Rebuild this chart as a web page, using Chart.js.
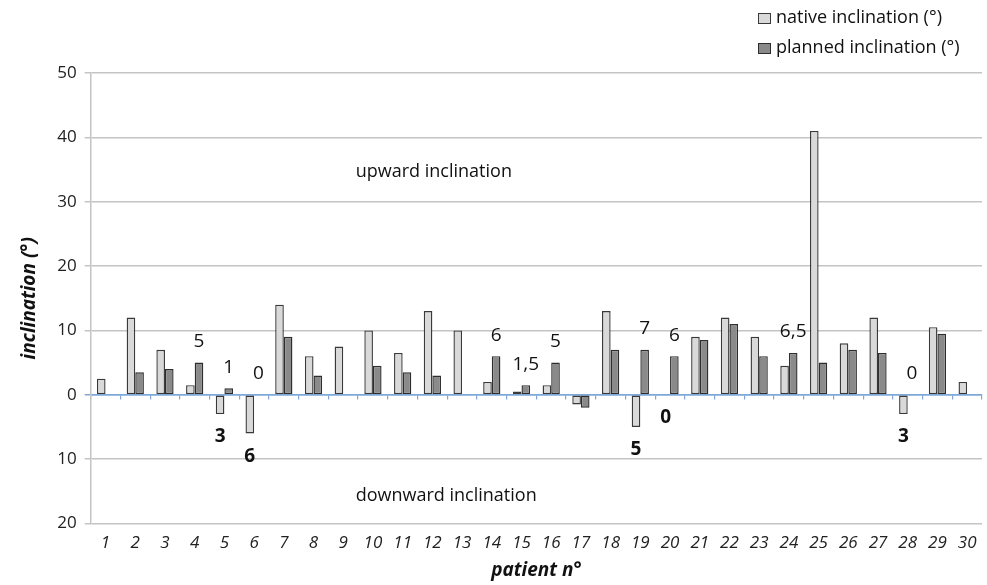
<!DOCTYPE html>
<html lang="en">
<head>
    <meta charset="UTF-8">
    <title>Native vs planned inclination</title>
    <script src="https://cdn.jsdelivr.net/npm/chart.js"></script>
    <style>
      body { margin: 0; background: #fff; }
      #wrap { width: 987px; height: 585px; }
    </style>
</head>
<body>
<div id="wrap"><canvas id="inclChart"></canvas></div>

<script>
  // data
  const patients = ['1','2','3','4','5','6','7','8','9','10','11','12','13','14','15',
                    '16','17','18','19','20','21','22','23','24','25','26','27','28','29','30'];
  const nativeIncl  = [2.5, 12, 7, 1.5, -3, -6, 14, 6, 7.5, 10, 6.5, 13, 10, 2, 0.5,
                       1.5, -1.5, 13, -5, 0, 9, 12, 9, 4.5, 41, 8, 12, -3, 10.5, 2];
  const plannedIncl = [null, 3.5, 4, 5, 1, 0, 9, 3, null, 4.5, 3.5, 3, null, 6, 1.5,
                       5, -2, 7, 7, 6, 8.5, 11, 6, 6.5, 5, 7, 6.5, 0, 9.5, null];
  // patients whose value is written next to the bar
  const plannedLabelled = [4, 5, 6, 14, 15, 16, 19, 20, 24, 28];
  const nativeLabelled  = [5, 6, 19, 20, 28];
  const yTicks = [-20, -10, 0, 10, 20, 30, 40, 50];

  const FONT = '"Open Sans", sans-serif';
  const blue = '#7fa8d8';
  const gridGray = '#c4c4c4';

  const fmt = v => String(Math.abs(v)).replace('.', ',');

  // value labels above planned bars / below downward native bars
  const valueLabels = {
    id: 'valueLabels',
    afterDatasetsDraw(chart) {
      const ctx = chart.ctx;
      const ys = chart.scales.y;
      ctx.save();
      ctx.fillStyle = '#111';
      ctx.textAlign = 'center';
      ctx.textBaseline = 'middle';
      ctx.font = '19px ' + FONT;
      plannedLabelled.forEach(p => {
        const el = chart.getDatasetMeta(1).data[p - 1];
        const v = plannedIncl[p - 1];
        ctx.fillText(fmt(v), el.x, ys.getPixelForValue(Math.max(v, 0)) - 21);
      });
      ctx.font = 'bold 19px ' + FONT;
      nativeLabelled.forEach(p => {
        const el = chart.getDatasetMeta(0).data[p - 1];
        const v = nativeIncl[p - 1];
        ctx.fillText(fmt(v), el.x, ys.getPixelForValue(Math.min(v, 0)) + 23);
      });
      ctx.restore();
    }
  };

  // zone captions and legend in the top-right corner
  const extras = {
    id: 'extras',
    afterDraw(chart) {
      const ctx = chart.ctx;
      const xs = chart.scales.x, ys = chart.scales.y;
      ctx.save();
      ctx.fillStyle = '#111';
      ctx.font = '18px ' + FONT;
      ctx.textAlign = 'left';
      ctx.textBaseline = 'middle';
      ctx.fillText('upward inclination', xs.getPixelForValue(8.42), ys.getPixelForValue(34.7));
      ctx.fillText('downward inclination', xs.getPixelForValue(8.42), ys.getPixelForValue(-15.7));

      chart.data.datasets.forEach((ds, i) => {
        const y = 18 + i * 30;
        ctx.fillStyle = ds.backgroundColor;
        ctx.fillRect(758, y - 5, 13, 11);
        ctx.strokeStyle = ds.borderColor;
        ctx.lineWidth = 1;
        ctx.strokeRect(758.5, y - 4.5, 12, 10);
        ctx.fillStyle = '#111';
        ctx.font = '18px ' + FONT;
        ctx.fillText(ds.label, 776, y);
      });
      ctx.restore();
    }
  };

  const ctx = document.getElementById('inclChart').getContext('2d');
  new Chart(ctx, {
    type: 'bar',
    data: {
      labels: patients,
      datasets: [
        {
          label: 'native inclination (°)',
          data: nativeIncl,
          backgroundColor: '#d9d9d9',
          borderColor: '#3a3a3a',
          borderWidth: 1.4,
          borderSkipped: false
        },
        {
          label: 'planned inclination (°)',
          data: plannedIncl,
          backgroundColor: '#8a8a8a',
          borderColor: '#2e2e2e',
          borderWidth: 1.4,
          borderSkipped: false
        }
      ]
    },
    options: {
      responsive: true,
      maintainAspectRatio: false,
      animation: false,
      layout: { padding: { top: 73, right: 5, left: 0, bottom: 0 } },
      datasets: { bar: { categoryPercentage: 0.58, barPercentage: 1.0 } },
      plugins: {
        legend: { display: false },
        tooltip: { enabled: false }
      },
      scales: {
        x: {
          offset: true,
          grid: { display: false, drawTicks: false },
          border: { display: false },
          ticks: {
            padding: 9,
            color: '#222',
            font: { family: FONT, size: 17, style: 'italic' },
            maxRotation: 0,
            autoSkip: false
          },
          title: {
            display: true,
            text: 'patient n°',
            color: '#111',
            padding: { top: 0, bottom: 3 },
            font: { family: FONT, size: 19, style: 'italic', weight: 'bold' }
          },
          afterFit: s => { s.height = 61.5; }
        },
        x2: {
          type: 'category',
          labels: patients,
          position: { y: 0 },
          offset: true,
          grid: { offset: true, drawOnChartArea: false, color: blue, tickLength: 4, lineWidth: 1.2 },
          border: { color: blue, width: 1.5 },
          ticks: { display: false }
        },
        y: {
          min: -20,
          max: 50,
          afterBuildTicks: s => { s.ticks = yTicks.map(v => ({ value: v })); },
          grid: {
            color: c => (c.tick && c.tick.value === 0) ? blue : gridGray,
            lineWidth: 1.5,
            tickLength: 6
          },
          border: { color: gridGray, width: 1.5 },
          ticks: {
            padding: 8,
            color: '#222',
            font: { family: FONT, size: 17 },
            callback: v => Math.abs(v)
          },
          title: {
            display: true,
            text: 'inclination (°)',
            color: '#111',
            padding: { top: 18, bottom: 0 },
            font: { family: FONT, size: 19, style: 'italic', weight: 'bold' }
          },
          afterFit: s => { s.width = 90.7; }
        }
      }
    },
    plugins: [valueLabels, extras]
  });
</script>
</body>
</html>
